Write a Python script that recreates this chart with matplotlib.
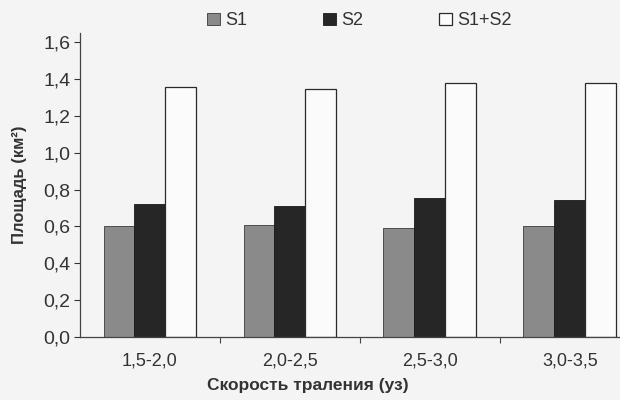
import matplotlib.pyplot as plt
import numpy as np
from matplotlib.ticker import FuncFormatter, FixedLocator

plt.rcParams['font.family'] = ['Liberation Sans', 'DejaVu Sans']

# Данные
categories = ['1,5-2,0', '2,0-2,5', '2,5-3,0', '3,0-3,5']
s1 = [0.60, 0.61, 0.59, 0.60]
s2 = [0.72, 0.71, 0.757, 0.746]
s12 = [1.355, 1.345, 1.376, 1.376]
series_names = ['S1', 'S2', 'S1+S2']

bg = '#f4f4f4'
fig = plt.figure(figsize=(6.2, 4.0), dpi=100, facecolor=bg)
ax = fig.add_axes([0.129, 0.1575, 0.903, 0.76])
ax.set_facecolor(bg)

x = np.arange(len(categories))
w = 0.221
ax.bar(x - w, s1, w, color='#8a8a8a', edgecolor='#3a3a3a', linewidth=0.6, label=series_names[0])
ax.bar(x, s2, w, color='#262626', edgecolor='#1a1a1a', linewidth=0.6, label=series_names[1])
ax.bar(x + w, s12, w, color='#fbfbfb', edgecolor='#2a2a2a', linewidth=0.9, label=series_names[2])

ax.set_xlim(-0.5, 3.5)
ax.set_ylim(0, 1.65)
ax.set_yticks(np.arange(0, 1.61, 0.2))
ax.yaxis.set_major_formatter(FuncFormatter(lambda v, p: f'{v:.1f}'.replace('.', ',')))
ax.set_xticks(x)
ax.set_xticklabels(categories)
ax.xaxis.set_minor_locator(FixedLocator([0.5, 1.5, 2.5]))
ax.tick_params(axis='x', which='major', length=0, labelsize=13, colors='#333333', pad=11)
ax.tick_params(axis='x', which='minor', length=4, width=0.8, color='#444444')
ax.tick_params(axis='y', length=4, width=0.8, labelsize=14, colors='#333333', pad=3)

for s in ['top', 'right']:
    ax.spines[s].set_visible(False)
for s in ['left', 'bottom']:
    ax.spines[s].set_color('#444444')
    ax.spines[s].set_linewidth(0.9)

ax.set_xlabel('Скорость траления (уз)', fontsize=12.5, fontweight='bold', color='#333333')
ax.xaxis.set_label_coords(0.407, -0.135)
ax.set_ylabel('Площадь (км²)', fontsize=12, fontweight='bold', color='#333333')
ax.yaxis.set_label_coords(-0.095, 0.5)

leg = ax.legend(loc='center', bbox_to_anchor=(0.58, 0.948), bbox_transform=fig.transFigure,
                ncol=3, frameon=False, fontsize=13, handlelength=0.7, handleheight=0.7,
                handletextpad=0.3, columnspacing=4.2)
for t in leg.get_texts():
    t.set_color('#333333')

plt.savefig('out.png', dpi=100, facecolor=bg)
plt.close()
